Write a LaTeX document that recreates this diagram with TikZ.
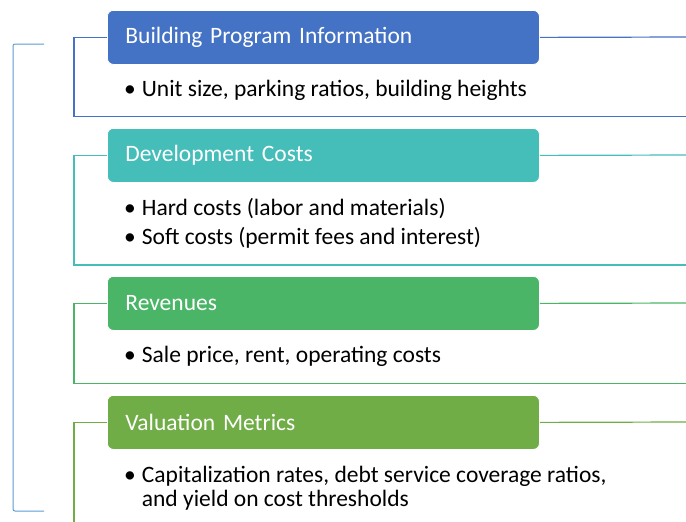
\documentclass[tikz,border=0pt]{standalone}
\usepackage{fontspec}
\setmainfont{Carlito}
\usetikzlibrary{positioning}

\definecolor{progblue}{HTML}{4472C4}
\definecolor{devteal}{HTML}{45BDB9}
\definecolor{revgreen}{HTML}{4AB566}
\definecolor{valgreen}{HTML}{70AD47}
\definecolor{bracketblue}{HTML}{5B9BD5}

\newcommand{\bul}{\textbullet\hspace{6pt}}

\tikzset{
  titlebox/.style={draw=white, line width=0.8pt, fill=#1, rounded corners=6pt,
    anchor=north west, minimum width=432pt, minimum height=54pt,
    text width=396pt, inner xsep=18pt, align=left, text=white, font=\fontsize{23.5}{24}\selectfont},
  bullet/.style={anchor=base west, inner sep=0pt, align=left, font=\fontsize{23.5}{24}\selectfont},
  frame/.style={draw=#1, line width=1.2pt}
}

\begin{document}
\begin{tikzpicture}[x=1pt, y=-1pt]
  \useasboundingbox (0,0) rectangle (686,522);

  % Bracket
  \coordinate (bt) at (44,44);
  \coordinate (bb) at (44,511);
  \draw[bracketblue, line width=1pt, rounded corners=2pt] (bt) -| (13,278) |- (bb);

  % Building program information
  \node[titlebox=progblue] (prog) at (107,10) {Building Program Information};
  \node[bullet] (prog1) at (124,96) {\bul Unit size, parking ratios, building heights};
  \coordinate (progend) at (686,37);
  \draw[frame=progblue] (prog.west) -| (74,116.5) -- (686,116.5);
  \draw[frame=progblue] (prog.east) -- (progend);

  % Development costs
  \node[titlebox=devteal] (dev) at (107,128) {Development Costs};
  \node[bullet] (dev1) at (124,215) {\bul Hard costs (labor and materials)};
  \node[bullet] (dev2) at (124,244) {\bul Soft costs (permit fees and interest)};
  \coordinate (devend) at (686,155);
  \draw[frame=devteal] (dev.west) -| (74,265) -- (686,265);
  \draw[frame=devteal] (dev.east) -- (devend);

  % Revenues
  \node[titlebox=revgreen] (rev) at (107,276) {Revenues};
  \node[bullet] (rev1) at (124,362) {\bul Sale price, rent, operating costs};
  \coordinate (revend) at (686,303);
  \draw[frame=revgreen] (rev.west) -| (74,383.5) -- (686,383.5);
  \draw[frame=revgreen] (rev.east) -- (revend);

  % Valuation metrics
  \node[bullet] (val1) at (124,506) {\bul Capitalization rates, debt service coverage ratios,\\
    \hphantom{\bul}and yield on cost thresholds};
  \node[titlebox=valgreen] (val) at (107,395) {Valuation Metrics};
  \coordinate (valend) at (686,422);
  \draw[frame=valgreen] (val.west) -| (74,522);
  \draw[frame=valgreen] (val.east) -- (valend);
\end{tikzpicture}
\end{document}
